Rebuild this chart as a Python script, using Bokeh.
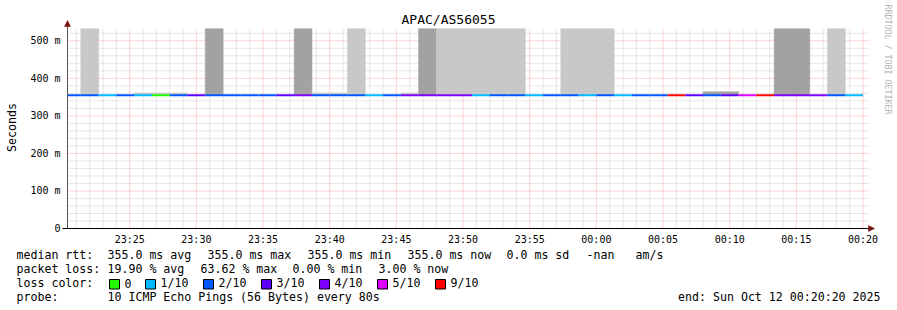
import math
import datetime as dt
from bokeh.plotting import figure
from bokeh.models import Range1d, FixedTicker, DatetimeTickFormatter, ColumnDataSource
from bokeh.core.properties import value
from bokeh.embed import file_html
from bokeh.resources import INLINE

# ---------------- data ----------------
TITLE = "APAC/AS56055"
Y_LABEL = "Seconds"
CREDIT = "RRDTOOL / TOBI OETIKER"
STEP_S = 80
LAST_SEG_END = dt.datetime(2025, 10, 12, 0, 20, 0)
VIEW_START = dt.datetime(2025, 10, 11, 23, 20, 20)
VIEW_END = dt.datetime(2025, 10, 12, 0, 20, 20)

median_ms = [355, 355, 355, 355, 355, 355, 355, 355, 355, 355, 355, 355, 355, 355, 355,
             355, 355, 355, 355, 355, 355, 355, 355, 355, 355, 355, 355, 355, 355, 355,
             355, 355, 355, 355, 355, 355, 355, 355, 355, 355, 355, 355, 355, 355, 355]
loss_tenths = [2, 2, 1, 2, 1, 0, 2, 3, 2, 2, 2, 2, 3, 4, 2,
               2, 2, 1, 2, 4, 4, 4, 4, 1, 2, 2, 1, 2, 2, 1,
               2, 1, 2, 2, 9, 3, 2, 3, 5, 9, 4, 4, 4, 2, 1]
smoke_top_ms = [355, 532, 355, 355, 361, 361, 361, 355, 532, 355, 355, 355, 355, 532, 361,
                361, 532, 355, 355, 361, 532, 532, 532, 532, 532, 532, 355, 355, 532, 532,
                532, 355, 355, 355, 355, 355, 364, 364, 355, 355, 532, 532, 355, 532, 355]
smoke_level = [0, 1, 0, 0, 1, 1, 1, 0, 2, 0, 0, 0, 0, 2, 1,
               1, 1, 0, 0, 1, 2, 1, 1, 1, 1, 1, 0, 0, 1, 1,
               1, 0, 0, 0, 0, 0, 2, 2, 0, 0, 2, 2, 0, 1, 0]

loss_keys = [0, 1, 2, 3, 4, 5, 9]
loss_names = ["0", "1/10", "2/10", "3/10", "4/10", "5/10", "9/10"]
loss_colors = ["#26ff00", "#00b8ff", "#0059ff", "#5e00ff", "#7e00ff", "#dd00ff", "#ff0000"]

y_ticks = [0, 100, 200, 300, 400, 500]
y_tick_labels = ["0", "100 m", "200 m", "300 m", "400 m", "500 m"]
y_minor = [20, 40, 60, 80, 120, 140, 160, 180, 220, 240, 260, 280, 320, 340, 360, 380,
           420, 440, 460, 480, 520]

row_rtt = ["median rtt:", "355.0 ms avg", "355.0 ms max", "355.0 ms min", "355.0 ms now",
           "0.0 ms sd", "-nan", "am/s"]
row_loss = ["packet loss:", "19.90 % avg", "63.62 % max", "0.00 % min", "3.00 % now"]
loss_label = "loss color:"
probe_label = "probe:"
probe_text = "10 ICMP Echo Pings (56 Bytes) every 80s"
end_text = "end: Sun Oct 12 00:20:20 2025"

# ---------------- layout (pixels) ----------------
W, H = 897, 310
FL, FT, FW, FH = 67, 28, 800, 200      # graph area inside the canvas
EPOCH = dt.datetime(1970, 1, 1)


def ms(d):
    return (d - EPOCH).total_seconds() * 1000.0


X0, X1 = ms(VIEW_START), ms(VIEW_END)
Y_TOP = 532.8
MS_PER_PX_X = (X1 - X0) / FW
MS_PER_PX_Y = Y_TOP / FH


def px2x(px):
    return X0 + (px - FL) * MS_PER_PX_X


def px2y(py):
    return (FT + FH - py) * MS_PER_PX_Y


n = len(loss_tenths)
seg_start = [max(X0, ms(LAST_SEG_END - dt.timedelta(seconds=STEP_S * (n - k)))) for k in range(n)]
seg_end = [ms(LAST_SEG_END - dt.timedelta(seconds=STEP_S * (n - k - 1))) for k in range(n)]
cmap = dict(zip(loss_keys, loss_colors))
shade = {1: "#c8c8c8", 2: "#a2a2a2"}

MONO = "DejaVu Sans Mono"

p = figure(width=W, height=H, x_axis_type="datetime",
           x_range=Range1d(px2x(0), px2x(W)), y_range=Range1d(px2y(H), px2y(0)),
           output_backend="svg", toolbar_location=None,
           min_border=0, min_border_left=0, min_border_right=0,
           min_border_top=0, min_border_bottom=0,
           background_fill_color="white", border_fill_color="white",
           outline_line_color=None)
p.grid.visible = False

# ---- grid (drawn as dotted segments) ----
major_x = [ms(dt.datetime(2025, 10, 11, 23, 25) + dt.timedelta(minutes=5 * i)) for i in range(12)]
minor_x = []
t = dt.datetime(2025, 10, 11, 23, 21)
while t <= VIEW_END:
    if t.minute % 5 != 0:
        minor_x.append(ms(t))
    t += dt.timedelta(minutes=1)

GRID_MINOR = "#8c8c8c"
GRID_MAJOR = "#ff0000"
p.segment(x0=minor_x, x1=minor_x, y0=[0] * len(minor_x), y1=[Y_TOP] * len(minor_x),
          line_color=GRID_MINOR, line_alpha=0.4, line_dash="1 1", line_width=1)
p.segment(x0=[X0] * len(y_minor), x1=[X1 + 2 * MS_PER_PX_X] * len(y_minor), y0=y_minor, y1=y_minor,
          line_color=GRID_MINOR, line_alpha=0.4, line_dash="1 1", line_width=1)
p.segment(x0=major_x, x1=major_x, y0=[0] * len(major_x), y1=[Y_TOP] * len(major_x),
          line_color=GRID_MAJOR, line_alpha=0.35, line_dash="1 1", line_width=1)
ym = y_ticks[1:]
p.segment(x0=[X0] * len(ym), x1=[X1 + 2 * MS_PER_PX_X] * len(ym), y0=ym, y1=ym,
          line_color=GRID_MAJOR, line_alpha=0.35, line_dash="1 1", line_width=1)

# ---- smoke ----
sm = [k for k in range(n) if smoke_level[k] > 0]
smoke_src = ColumnDataSource(dict(
    left=[seg_start[k] for k in sm], right=[seg_end[k] for k in sm],
    bottom=[median_ms[k] for k in sm], top=[smoke_top_ms[k] for k in sm],
    color=[shade[smoke_level[k]] for k in sm]))
p.quad(left="left", right="right", bottom="bottom", top="top", fill_color="color",
       line_color="color", line_width=0.6, source=smoke_src)

# ---- median line coloured by loss ----
line_src = ColumnDataSource(dict(x0=seg_start, x1=seg_end, y0=median_ms, y1=median_ms,
                                 color=[cmap[l] for l in loss_tenths]))
p.segment(x0="x0", y0="y0", x1="x1", y1="y1", line_color="color", line_width=2,
          line_cap="butt", source=line_src)

# ---- axis lines with arrow heads ----
DARKRED = "#7a1010"
p.segment(x0=[px2x(62)], x1=[px2x(869)], y0=[0], y1=[0], line_color="black", line_width=1)
p.segment(x0=[X0], x1=[X0], y0=[0], y1=[px2y(25)], line_color="#555555", line_width=1)
p.patches(xs=[[px2x(868), px2x(868), px2x(874)], [px2x(64), px2x(70), px2x(67)]],
          ys=[[px2y(225), px2y(231), px2y(228)], [px2y(26), px2y(26), px2y(20)]],
          fill_color=DARKRED, line_color=DARKRED, line_width=0.5)

# ---- axes (tick labels) placed at the graph edges ----
p.xaxis.fixed_location = 0
p.yaxis.fixed_location = X0
p.xaxis.ticker = FixedTicker(ticks=major_x, minor_ticks=[])
p.yaxis.ticker = FixedTicker(ticks=y_ticks, minor_ticks=[])
p.xaxis.formatter = DatetimeTickFormatter(minutes="%H:%M", hourmin="%H:%M", hours="%H:%M",
                                          minsec="%H:%M", seconds="%H:%M", days="%H:%M",
                                          boundary_scaling=False)
p.yaxis.major_label_overrides = dict(zip(y_ticks, y_tick_labels))
for ax in (p.xaxis[0], p.yaxis[0]):
    ax.axis_line_color = None
    ax.major_tick_in = 0
    ax.major_tick_out = 0
    ax.minor_tick_in = 0
    ax.minor_tick_out = 0
    ax.major_label_text_font = MONO
    ax.major_label_text_font_size = "10px"
    ax.major_label_text_color = "black"
p.xaxis.major_label_standoff = 5
p.yaxis.major_label_standoff = 7


# ---- texts ----
def add_text(items, size, color="black", align="left", angle=0.0):
    src = ColumnDataSource(dict(x=[px2x(a) for _, a, _ in items],
                                y=[px2y(b) for _, _, b in items],
                                text=[s for s, _, _ in items]))
    p.text(x="x", y="y", text="text", source=src, text_font=value(MONO),
           text_font_size=size, text_color=color, text_align=align,
           text_baseline="middle", angle=angle)


add_text([(TITLE, 448, 19)], "13px", align="center")
add_text([(Y_LABEL, 11, 127)], "11.6px", align="center", angle=math.pi / 2)
add_text([(CREDIT, 887, 4)], "8.3px", color="#b4b4b4", angle=-math.pi / 2)

rtt_x = [16, 107, 207, 307, 407, 506, 586, 635]
loss_x = [16, 107, 200, 292, 378]
sw_x = [109, 145, 203, 261, 319, 377, 435]
legend_items = [(s, x, 254.5) for s, x in zip(row_rtt, rtt_x)]
legend_items += [(s, x, 268.5) for s, x in zip(row_loss, loss_x)]
legend_items += [(loss_label, 16, 282.5)]
legend_items += [(s, x + 15, 282.5) for s, x in zip(loss_names, sw_x)]
legend_items += [(probe_label, 16, 296.5), (probe_text, 107, 296.5)]
add_text(legend_items, "11.6px")
add_text([(end_text, 880, 296.5)], "11.6px", align="right")

p.quad(left=[px2x(x) for x in sw_x], right=[px2x(x + 10) for x in sw_x],
       top=[px2y(279)] * len(sw_x), bottom=[px2y(288.5)] * len(sw_x),
       fill_color=loss_colors, line_color="black", line_width=1)

open("out.html", "w").write(file_html(p, INLINE))
